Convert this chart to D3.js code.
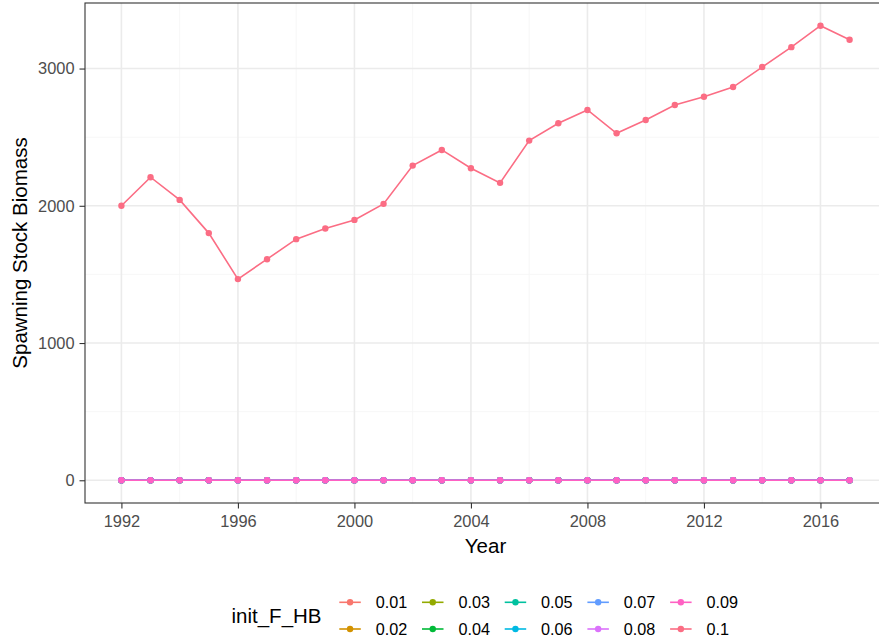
<!DOCTYPE html>
<html>
<head>
<meta charset="utf-8">
<script src="https://cdn.jsdelivr.net/npm/d3@7"></script>
<style>
  html, body { margin: 0; padding: 0; background: #ffffff; }
  svg { display: block; font-family: "Liberation Sans", Arial, sans-serif; }
</style>
</head>
<body>
<svg id="chart" width="879" height="642"></svg>
<script>
// Spawning stock biomass by year, one line per initial F value
const years = [1992, 1993, 1994, 1995, 1996, 1997, 1998, 1999, 2000, 2001, 2002, 2003, 2004,
               2005, 2006, 2007, 2008, 2009, 2010, 2011, 2012, 2013, 2014, 2015, 2016, 2017];
const levels = ["0.01", "0.02", "0.03", "0.04", "0.05", "0.06", "0.07", "0.08", "0.09", "0.1"];
const levelColors = ["#F8766D", "#D39200", "#93AA00", "#00BA38", "#00C19F",
                     "#00B9E3", "#619CFF", "#DB72FB", "#FF61C3", "#FB6D84"];
const ssbZero = [0, 0, 0, 0, 0, 0, 0, 0, 0, 0, 0, 0, 0, 0, 0, 0, 0, 0, 0, 0, 0, 0, 0, 0, 0, 0];
const ssbF010 = [2000, 2208, 2043, 1801, 1466, 1611, 1757, 1834, 1897, 2014, 2293, 2407, 2274,
                 2167, 2475, 2601, 2698, 2528, 2625, 2734, 2795, 2865, 3011, 3156, 3312, 3210];
const seriesValues = [ssbZero, ssbZero, ssbZero, ssbZero, ssbZero, ssbZero, ssbZero, ssbZero, ssbZero, ssbF010];
const xTicks = [1992, 1996, 2000, 2004, 2008, 2012, 2016];
const xMinor = [1994, 1998, 2002, 2006, 2010, 2014];
const yTicks = [0, 1000, 2000, 3000];
const yMinor = [500, 1500, 2500];

const series = levels.map((lv, i) => ({
  level: lv,
  color: levelColors[i],
  points: years.map((yr, j) => ({ year: yr, value: seriesValues[i][j] }))
}));

const svg = d3.select("#chart");
const panel = { left: 85, right: 886, top: 3, bottom: 503 };

// ggplot-style 5% expansion on both axes
function expand(ext) {
  const pad = (ext[1] - ext[0]) * 0.05;
  return [ext[0] - pad, ext[1] + pad];
}
const allValues = seriesValues.flat();
const x = d3.scaleLinear().domain(expand(d3.extent(years))).range([panel.left, panel.right]);
const y = d3.scaleLinear().domain(expand(d3.extent(allValues))).range([panel.bottom, panel.top]);

svg.append("rect").attr("width", 879).attr("height", 642).attr("fill", "#ffffff");

const g = svg.append("g");

// grid
g.selectAll(".xminor").data(xMinor).join("line")
  .attr("x1", d => x(d)).attr("x2", d => x(d))
  .attr("y1", panel.top).attr("y2", panel.bottom)
  .attr("stroke", "#F5F5F5").attr("stroke-width", 0.8);
g.selectAll(".yminor").data(yMinor).join("line")
  .attr("y1", d => y(d)).attr("y2", d => y(d))
  .attr("x1", panel.left).attr("x2", panel.right)
  .attr("stroke", "#F5F5F5").attr("stroke-width", 0.8);
g.selectAll(".xmajor").data(xTicks).join("line")
  .attr("x1", d => x(d)).attr("x2", d => x(d))
  .attr("y1", panel.top).attr("y2", panel.bottom)
  .attr("stroke", "#EBEBEB").attr("stroke-width", 1.6);
g.selectAll(".ymajor").data(yTicks).join("line")
  .attr("y1", d => y(d)).attr("y2", d => y(d))
  .attr("x1", panel.left).attr("x2", panel.right)
  .attr("stroke", "#EBEBEB").attr("stroke-width", 1.6);

// series lines and points
const line = d3.line().x(d => x(d.year)).y(d => y(d.value));
const sg = g.selectAll(".series").data(series).join("g");
sg.append("path")
  .attr("d", d => line(d.points))
  .attr("fill", "none")
  .attr("stroke", d => d.color)
  .attr("stroke-width", 1.6);
sg.selectAll("circle").data(d => d.points.map(p => ({ ...p, color: d.color }))).join("circle")
  .attr("cx", d => x(d.year)).attr("cy", d => y(d.value))
  .attr("r", 3.2).attr("fill", d => d.color);

// panel border
g.append("rect")
  .attr("x", panel.left).attr("y", panel.top)
  .attr("width", panel.right - panel.left).attr("height", panel.bottom - panel.top)
  .attr("fill", "none").attr("stroke", "#333333").attr("stroke-width", 1.1);

// axes
const xAxis = d3.axisBottom(x).tickValues(xTicks).tickFormat(d3.format("d")).tickSize(5.5).tickPadding(7);
const yAxis = d3.axisLeft(y).tickValues(yTicks).tickFormat(d3.format("d")).tickSize(5.5).tickPadding(5);

const gx = svg.append("g").attr("transform", `translate(0,${panel.bottom})`).call(xAxis);
const gy = svg.append("g").attr("transform", `translate(${panel.left},0)`).call(yAxis);
[gx, gy].forEach(a => {
  a.select(".domain").remove();
  a.selectAll(".tick line").attr("stroke", "#333333").attr("stroke-width", 1.1);
  a.selectAll(".tick text").attr("fill", "#4D4D4D")
    .style("font-size", "16.4px").style("font-family", "Liberation Sans, Arial, sans-serif");
});

// axis titles
svg.append("text")
  .attr("x", (panel.left + panel.right) / 2).attr("y", 553)
  .attr("text-anchor", "middle").attr("fill", "#000000")
  .style("font-size", "20.5px").text("Year");
svg.append("text")
  .attr("transform", `translate(27,${(panel.top + panel.bottom) / 2}) rotate(-90)`)
  .attr("text-anchor", "middle").attr("fill", "#000000")
  .style("font-size", "20.5px").text("Spawning Stock Biomass");

// legend
const legend = svg.append("g");
legend.append("text")
  .attr("x", 231.5).attr("y", 622.5)
  .attr("fill", "#000000").style("font-size", "20.5px").text("init_F_HB");

const colStart = 339.3, colStep = 82.7, rowY = [602.3, 629];
const items = legend.selectAll(".item").data(series).join("g")
  .attr("transform", (d, i) => `translate(${colStart + Math.floor(i / 2) * colStep},${rowY[i % 2]})`);
items.append("line")
  .attr("x1", 0).attr("x2", 21.5).attr("y1", 0).attr("y2", 0)
  .attr("stroke", d => d.color).attr("stroke-width", 1.6);
items.append("circle")
  .attr("cx", 10.75).attr("cy", 0).attr("r", 3.2).attr("fill", d => d.color);
items.append("text")
  .attr("x", 36.4).attr("y", 6)
  .attr("fill", "#000000").style("font-size", "16.2px").text(d => d.level);
</script>
</body>
</html>
